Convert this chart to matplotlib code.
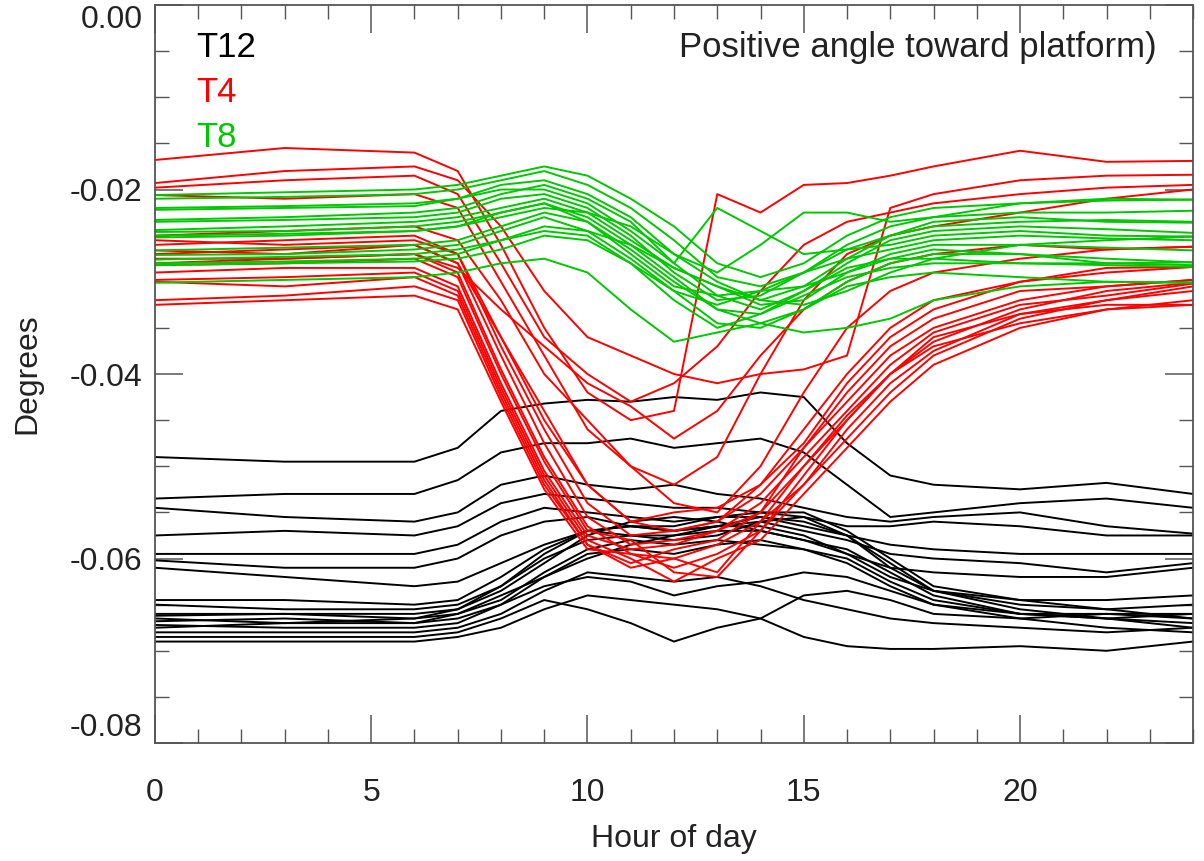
import matplotlib
matplotlib.use('Agg')
import numpy as np
import matplotlib.pyplot as plt
from matplotlib.ticker import MultipleLocator, FormatStrFormatter

plt.rcParams['font.family'] = ['Liberation Sans', 'DejaVu Sans']
plt.rcParams['axes.unicode_minus'] = False

hours = [0, 3, 6, 7, 8, 9, 10, 11, 12, 13, 14, 15, 16, 17, 18, 20, 22, 24]

# Tilt values in milli-degrees, one row per day
t12 = [
    [-49.0, -49.5, -49.5, -48.0, -44.0, -43.2, -42.8, -43.0, -42.5, -42.8, -42.0, -42.5, -47.5, -51.0, -52.0, -52.5, -51.8, -53.0],
    [-53.5, -53.0, -53.0, -51.5, -48.5, -47.5, -47.5, -47.0, -48.0, -47.5, -47.0, -48.5, -52.0, -55.5, -55.0, -54.0, -53.5, -54.5],
    [-54.5, -55.5, -56.0, -55.0, -52.0, -51.0, -52.0, -52.5, -52.0, -53.0, -53.5, -54.5, -55.5, -56.0, -55.5, -55.0, -56.5, -57.3],
    [-57.5, -57.0, -57.5, -56.5, -54.0, -53.0, -53.5, -54.0, -54.5, -54.5, -55.0, -55.5, -56.5, -56.5, -56.0, -56.5, -57.5, -57.5],
    [-59.5, -59.5, -59.5, -58.5, -56.0, -54.5, -55.0, -55.5, -56.0, -55.5, -55.5, -56.5, -57.5, -58.5, -59.0, -59.5, -59.5, -59.5],
    [-60.2, -61.0, -61.0, -60.0, -57.5, -56.0, -55.5, -56.5, -57.0, -56.5, -56.0, -57.0, -58.0, -59.5, -60.0, -60.5, -61.5, -60.5],
    [-61.0, -62.0, -63.0, -62.5, -60.5, -58.5, -57.0, -57.5, -57.5, -57.0, -57.0, -58.0, -59.5, -61.0, -61.5, -62.0, -62.0, -61.0],
    [-64.5, -64.5, -65.0, -64.5, -62.0, -59.0, -57.0, -56.5, -57.0, -56.5, -56.5, -57.5, -59.5, -62.0, -63.5, -64.5, -64.5, -64.0],
    [-65.0, -65.5, -65.5, -65.0, -63.0, -60.0, -58.0, -57.5, -58.0, -57.5, -56.0, -55.5, -57.5, -61.0, -63.5, -65.0, -65.5, -65.0],
    [-66.0, -66.0, -66.5, -65.5, -63.5, -60.5, -57.5, -56.0, -55.5, -56.0, -57.0, -58.0, -59.0, -61.5, -64.0, -66.0, -66.5, -66.0],
    [-66.5, -67.0, -66.5, -66.0, -64.5, -61.5, -59.0, -58.0, -58.5, -58.0, -58.5, -59.0, -60.0, -62.5, -64.5, -66.0, -66.5, -67.0],
    [-66.8, -66.5, -67.0, -66.0, -64.0, -62.0, -60.0, -58.5, -57.5, -56.5, -55.5, -56.0, -57.5, -60.5, -63.5, -65.5, -66.5, -67.5],
    [-67.2, -67.5, -67.5, -67.0, -65.0, -62.0, -59.5, -59.0, -59.5, -58.5, -58.0, -59.0, -60.5, -63.0, -65.0, -66.5, -67.5, -68.0],
    [-67.5, -67.0, -67.0, -66.5, -65.0, -63.0, -62.0, -62.5, -64.0, -63.0, -62.5, -61.5, -62.0, -63.5, -65.0, -66.0, -66.0, -66.5],
    [-68.0, -68.0, -68.0, -67.5, -66.0, -63.5, -61.5, -62.0, -62.5, -62.0, -63.0, -64.5, -65.5, -66.5, -67.0, -67.5, -68.0, -67.5],
    [-68.5, -68.5, -68.5, -68.0, -66.5, -64.5, -65.5, -67.0, -69.0, -67.5, -66.5, -64.0, -63.5, -64.5, -66.0, -66.5, -66.0, -66.0],
    [-69.0, -69.0, -69.0, -68.5, -67.5, -65.5, -64.0, -64.5, -65.0, -65.5, -66.5, -68.5, -69.5, -69.8, -69.8, -69.5, -70.0, -69.0],
    [-66.2, -66.0, -66.0, -65.5, -63.0, -59.5, -57.0, -56.5, -56.5, -55.5, -55.0, -55.0, -57.0, -60.0, -63.0, -64.5, -65.5, -66.5],
]

t4 = [
    [-16.8, -15.5, -16.0, -18.0, -26.0, -35.0, -42.0, -45.0, -44.0, -20.5, -22.5, -19.5, -19.3, -18.5, -17.5, -15.8, -17.0, -16.9],
    [-19.3, -18.0, -17.5, -19.0, -24.0, -31.0, -36.0, -38.0, -40.0, -41.0, -40.0, -39.5, -38.0, -22.0, -20.5, -19.0, -18.5, -18.4],
    [-19.8, -19.0, -18.5, -20.5, -28.0, -36.0, -40.0, -43.0, -41.0, -37.0, -31.0, -26.0, -23.5, -22.5, -21.5, -20.5, -19.8, -19.5],
    [-20.6, -21.0, -20.5, -22.0, -30.0, -38.0, -46.0, -50.0, -52.0, -49.0, -40.0, -32.0, -27.0, -25.0, -24.0, -22.5, -21.0, -20.0],
    [-25.0, -24.5, -24.0, -25.5, -32.0, -40.0, -45.0, -50.0, -54.0, -55.0, -50.0, -42.0, -35.0, -31.0, -29.0, -27.5, -26.5, -26.2],
    [-27.0, -26.5, -26.0, -28.0, -36.0, -44.0, -52.0, -56.0, -57.0, -56.0, -52.0, -46.0, -40.0, -35.0, -32.0, -30.0, -29.0, -28.4],
    [-28.0, -27.5, -27.0, -28.5, -33.0, -37.0, -41.0, -43.5, -47.0, -44.0, -38.0, -33.0, -30.0, -28.0, -27.0, -26.0, -26.5, -26.2],
    [-26.0, -25.5, -25.0, -27.0, -37.0, -46.0, -54.0, -57.5, -57.0, -56.0, -53.0, -48.0, -43.0, -38.0, -35.0, -32.0, -30.5, -29.8],
    [-26.6, -27.0, -26.0, -28.0, -38.0, -47.5, -55.5, -58.5, -58.0, -57.0, -55.0, -50.0, -45.0, -40.0, -36.5, -33.0, -31.0, -30.1],
    [-27.5, -27.5, -27.0, -29.0, -39.5, -49.0, -56.5, -59.5, -60.0, -58.5, -56.0, -52.0, -47.0, -42.0, -38.0, -34.0, -32.0, -30.5],
    [-28.2, -28.0, -27.5, -29.5, -40.0, -49.5, -57.0, -58.0, -61.5, -62.0, -57.0, -51.0, -45.0, -40.0, -37.0, -34.5, -33.0, -32.0],
    [-29.0, -28.5, -28.5, -30.5, -41.0, -50.5, -57.5, -59.0, -58.5, -57.0, -54.0, -49.0, -44.0, -39.0, -35.5, -32.5, -31.5, -30.2],
    [-29.8, -29.5, -29.0, -31.0, -41.5, -51.0, -58.0, -60.0, -62.5, -60.0, -58.0, -53.0, -48.0, -43.0, -39.0, -35.0, -33.0, -32.5],
    [-30.0, -30.5, -29.5, -31.5, -42.0, -51.5, -58.5, -61.0, -60.0, -61.5, -56.0, -50.0, -44.5, -40.0, -36.0, -33.5, -32.0, -31.0],
    [-32.0, -31.5, -30.5, -32.0, -42.5, -52.0, -58.5, -60.5, -59.0, -58.0, -55.0, -48.0, -42.0, -37.0, -34.0, -31.0, -30.5, -29.8],
    [-32.5, -32.0, -31.5, -33.0, -43.0, -52.5, -59.0, -59.5, -61.0, -59.5, -57.0, -52.0, -46.0, -41.0, -37.5, -33.5, -32.5, -32.5],
    [-25.5, -26.0, -25.5, -27.0, -36.0, -45.0, -52.0, -56.0, -55.0, -54.5, -52.0, -47.5, -41.0, -36.0, -33.0, -30.0, -28.5, -28.4],
]

t8 = [
    [-20.6, -20.3, -20.0, -19.5, -18.5, -17.5, -18.5, -21.0, -24.0, -28.0, -29.5, -28.0, -25.0, -23.0, -22.0, -21.5, -21.2, -21.1],
    [-21.0, -20.8, -20.5, -20.0, -19.0, -18.0, -19.5, -22.0, -25.5, -29.5, -30.5, -29.0, -26.0, -24.0, -23.0, -22.5, -22.5, -22.3],
    [-22.0, -21.8, -21.5, -21.0, -19.5, -19.0, -20.5, -23.0, -27.0, -30.0, -32.0, -30.5, -27.5, -25.0, -23.5, -23.0, -23.5, -23.6],
    [-22.2, -22.0, -21.8, -21.0, -20.0, -20.0, -21.5, -24.5, -28.0, -31.5, -33.0, -31.0, -28.0, -25.5, -24.5, -24.0, -24.3, -24.7],
    [-23.3, -23.0, -22.5, -22.0, -20.5, -19.5, -21.0, -23.5, -28.0, -22.0, -24.5, -27.0, -26.5, -26.0, -25.0, -24.5, -25.0, -25.1],
    [-23.5, -23.3, -23.0, -22.5, -21.0, -20.5, -22.0, -25.0, -29.0, -32.0, -31.5, -29.0, -27.5, -26.5, -25.5, -25.0, -25.3, -25.5],
    [-24.4, -24.0, -23.5, -23.0, -22.0, -21.0, -22.5, -25.5, -28.5, -30.5, -32.5, -32.0, -29.0, -27.0, -26.0, -26.0, -26.3, -26.6],
    [-24.6, -24.5, -24.0, -23.5, -22.5, -21.5, -23.0, -26.0, -29.5, -33.0, -34.5, -33.0, -30.0, -28.0, -27.0, -27.0, -27.5, -27.9],
    [-25.0, -24.8, -24.5, -24.0, -23.0, -22.0, -22.5, -24.0, -27.0, -29.0, -26.0, -22.5, -22.5, -23.5, -23.0, -21.5, -21.0, -21.1],
    [-25.2, -25.0, -24.5, -24.0, -22.5, -21.5, -23.5, -27.0, -30.5, -31.5, -31.0, -30.5, -29.0, -27.5, -26.5, -27.0, -28.0, -28.2],
    [-26.6, -26.3, -26.0, -25.5, -24.0, -22.5, -23.5, -26.5, -30.0, -33.0, -33.5, -31.5, -29.5, -28.5, -28.0, -28.0, -28.2, -28.4],
    [-27.1, -27.0, -26.5, -26.0, -24.5, -23.0, -24.5, -27.5, -31.0, -34.5, -35.0, -33.0, -30.5, -29.5, -29.0, -29.5, -30.0, -30.1],
    [-27.6, -27.3, -27.0, -26.5, -25.5, -24.5, -25.0, -28.0, -31.0, -32.5, -31.0, -29.0, -26.5, -25.0, -24.0, -23.5, -23.3, -23.5],
    [-28.0, -27.8, -27.5, -27.0, -25.5, -24.0, -24.5, -26.0, -28.5, -30.5, -32.0, -32.5, -31.0, -29.0, -27.5, -26.0, -25.5, -25.1],
    [-28.2, -28.0, -27.8, -27.5, -26.5, -25.0, -25.5, -28.0, -32.0, -35.0, -33.5, -31.0, -28.5, -27.5, -27.5, -28.0, -28.0, -27.9],
    [-30.1, -29.8, -29.5, -29.0, -28.0, -27.5, -29.0, -33.0, -36.5, -35.5, -34.5, -35.5, -35.0, -34.0, -32.0, -30.5, -30.0, -30.1],
]

groups = [(t12, 'black', 'T12'), (t4, '#ff0000', 'T4'), (t8, '#00c800', 'T8')]

fig = plt.figure(figsize=(12.04, 8.61), dpi=100)
ax = fig.add_axes([0.1287, 0.137, 0.8622, 0.8572])

for rows, color, name in groups:
    for row in rows:
        ax.plot(hours, np.array(row) * 1e-3, color=color, lw=1.4)

ax.set_xlim(0, 24)
ax.set_ylim(-0.08, 0.0)
ax.xaxis.set_major_locator(MultipleLocator(5))
ax.xaxis.set_minor_locator(MultipleLocator(1))
ax.yaxis.set_major_locator(MultipleLocator(0.02))
ax.yaxis.set_minor_locator(MultipleLocator(0.005))
ax.yaxis.set_major_formatter(FormatStrFormatter('%.2f'))

axis_color = '#555555'
for sp in ax.spines.values():
    sp.set_color(axis_color)
    sp.set_linewidth(1.3)
ax.tick_params(which='both', direction='in', top=True, right=True,
               color=axis_color, labelsize=23, labelcolor='#222222')
ax.tick_params(which='major', length=20, width=1.1)
ax.tick_params(which='minor', length=10, width=1.0)
ax.tick_params(axis='x', which='major', pad=25)
ax.tick_params(axis='y', which='major', pad=9)

ax.set_xlabel('Hour of day', fontsize=23, labelpad=12, color='#222222')
ax.set_ylabel('Degrees', fontsize=23, labelpad=20, color='#222222')

# keep the end labels of the y axis inside the axis range, as the original does
fig.canvas.draw()
yticks = ax.yaxis.get_major_ticks()
for tk in yticks:
    val = tk.get_loc()
    if abs(val) < 1e-9:
        tk.label1.set_verticalalignment('top')
    elif abs(val + 0.08) < 1e-9:
        tk.label1.set_verticalalignment('bottom')

ytxt = [0.943, 0.882, 0.821]
for (rows, color, name), yy in zip(groups, ytxt):
    ax.text(0.04, yy, name, transform=ax.transAxes, color=color,
            fontsize=25, va='center', ha='left')
ax.text(0.965, 0.943, 'Positive angle toward platform)', transform=ax.transAxes,
        color='#222222', fontsize=25, va='center', ha='right')

fig.savefig('out.png', dpi=100)
